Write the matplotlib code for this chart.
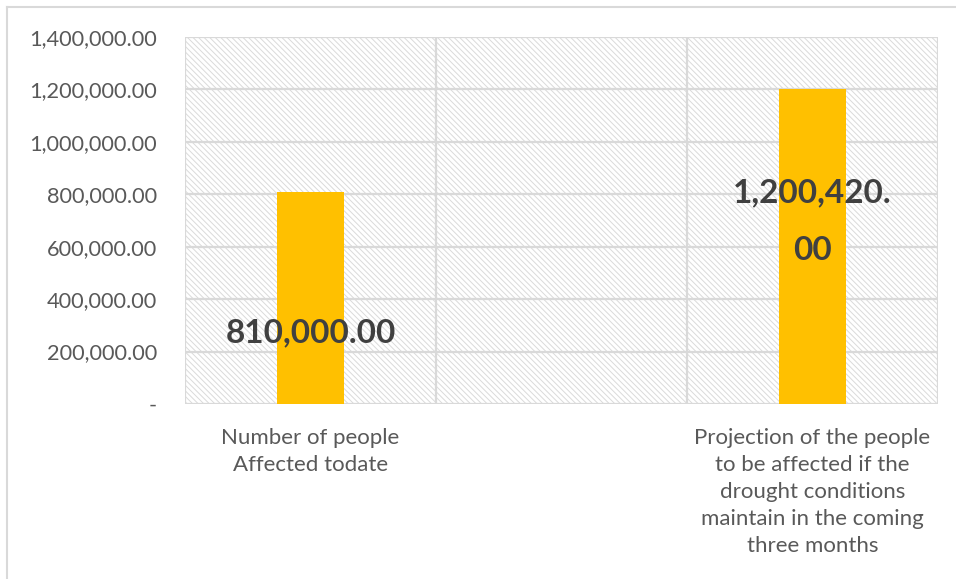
import numpy as np
import matplotlib.pyplot as plt
from matplotlib.patches import Rectangle
from matplotlib.lines import Line2D
from matplotlib.ticker import FuncFormatter

# chart data
categories = ["Number of people\nAffected todate",
              "",
              "Projection of the people\nto be affected if the\ndrought conditions\nmaintain in the coming\nthree months"]
values = [810000.00, np.nan, 1200420.00]
value_labels = ["810,000.00", "", "1,200,420.\n00"]
label_frac = [0.335, 0, 0.58]   # where the labels sit inside each bar

plt.rcParams['font.family'] = ['Lato', 'DejaVu Sans']
plt.rcParams['hatch.linewidth'] = 0.7

grid_c = '#d9d9d9'
text_c = '#595959'

fig = plt.figure(figsize=(9.56, 5.79), dpi=100)
ax = fig.add_axes([185/956, 1 - 404/579, (938 - 185)/956, (404 - 37)/579])

# chart area border (top and left only visible)
fig.add_artist(Line2D([7/956, 1], [1 - 7/579, 1 - 7/579], color=grid_c, lw=1.5))
fig.add_artist(Line2D([7/956, 7/956], [0, 1 - 7/579], color=grid_c, lw=1.5))

x = np.arange(len(categories))
ax.set_xlim(-0.5, len(categories) - 0.5)
ax.set_ylim(0, 1400000)

# hatched plot-area background
bg = Rectangle((0, 0), 1, 1, transform=ax.transAxes, facecolor='white',
               edgecolor='#dadada', hatch='\\' * 6, lw=0, zorder=0)
ax.add_patch(bg)

# gridlines
for yv in np.arange(0, 1400001, 200000):
    ax.axhline(yv, color=grid_c, lw=1.6, zorder=1)
for xv in np.arange(-0.5, len(categories), 1.0):
    ax.axvline(xv, color=grid_c, lw=1.6, zorder=1)

ax.bar(x, values, width=0.27, color='#ffc000', zorder=2)

for xi, v, lab, f in zip(x, values, value_labels, label_frac):
    if lab:
        ax.text(xi, v * f, lab, ha='center', va='center', fontsize=24,
                fontweight='bold', color='#404040', linespacing=2.2, zorder=3)

for s in ax.spines.values():
    s.set_visible(False)

ax.set_yticks(np.arange(0, 1400001, 200000))
ax.yaxis.set_major_formatter(FuncFormatter(lambda v, p: '-' if v == 0 else f"{v:,.2f}"))
ax.set_xticks(x)
ax.set_xticklabels(categories, linespacing=1.45)
ax.tick_params(axis='both', length=0, labelcolor=text_c, labelsize=15.7)
ax.tick_params(axis='x', labelsize=16)
ax.tick_params(axis='y', pad=20)
ax.tick_params(axis='x', pad=17)

fig.savefig("out.png", dpi=100)
